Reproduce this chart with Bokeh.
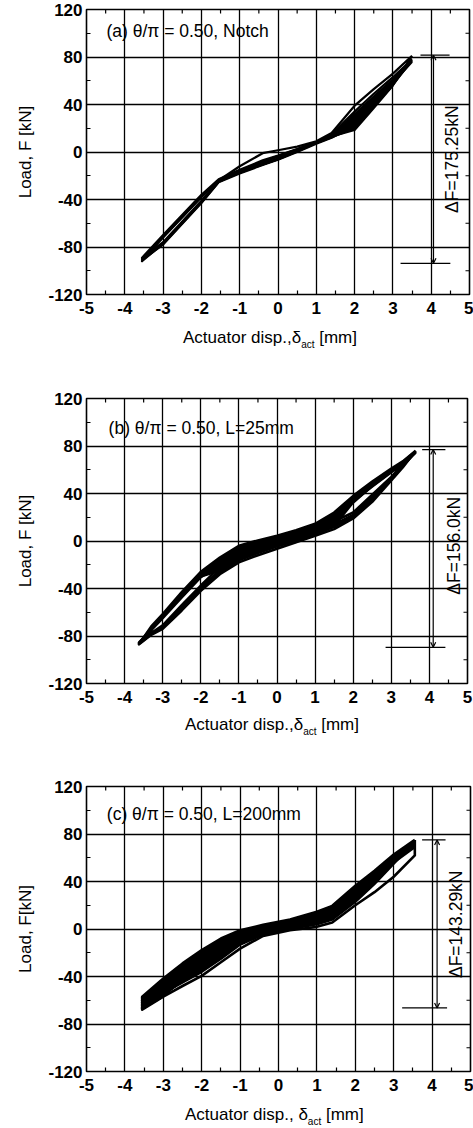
import math
from bokeh.plotting import figure
from bokeh.layouts import column
from bokeh.models import (Range1d, FixedTicker, Arrow, OpenHead, Label, Div)
from bokeh.embed import file_html
from bokeh.resources import INLINE

FONT = "Liberation Sans"

# ---------------- data ----------------
x_ticks = [-5, -4, -3, -2, -1, 0, 1, 2, 3, 4, 5]
x_tick_labels = ["-5", "-4", "-3", "-2", "-1", "0", "1", "2", "3", "4", "5"]
x_minor = [-4.5, -3.5, -2.5, -1.5, -0.5, 0.5, 1.5, 2.5, 3.5, 4.5]
y_ticks = [-120, -80, -40, 0, 40, 80, 120]
y_tick_labels = ["-120", "-80", "-40", "0", "40", "80", "120"]
y_minor = [-100, -60, -20, 20, 60, 100]

# Panel (a) Notch : loops given as upper (unloading) and lower (reloading) branches
a_x = [-3.55, -3.0, -2.0, -1.55, -1.0, -0.4, 0.0, 0.5, 1.0, 1.4, 2.0, 2.5, 3.0, 3.5]
a_upper = [
    [-92, -71, -37, -24, -12, -1, 1.5, 4.5, 9, 16, 39, 53, 66, 81],
    [-89, -70, -36, -23, -15, -7, -3, 2.5, 8.5, 15, 34, 49, 63, 78],
    [-91, -72, -38, -24, -16, -8.5, -4, 2, 8, 14, 30, 46, 61, 76],
    [-90, -71.5, -37.5, -24, -15.5, -8, -3.5, 2.2, 8.2, 14.5, 27, 43, 59, 77],
]
a_lower = [
    [-92, -77, -42, -25, -17, -10, -5.5, 1, 8, 13, 18.5, 37, 56, 81],
    [-89, -76, -41, -24.5, -17.5, -10.5, -6, 0.5, 7.5, 12.5, 20, 38, 57, 78],
    [-91, -78, -43, -25.5, -18, -11, -6.5, 0, 7, 12, 22, 40, 58, 76],
    [-90, -77.5, -42.5, -25, -17.5, -10.5, -6, 0.8, 7.5, 12.5, 24, 41.5, 58.5, 77],
]
a_fill_x = [1.4, 2.0, 2.5, 3.0, 3.5]
a_fill_top = [15, 33, 48, 62, 79]
a_fill_bot = [12.5, 19, 37, 55, 76]

# Panel (b) L=25mm
b_x = [-3.62, -3.3, -3.0, -2.5, -2.0, -1.5, -1.0, -0.5, 0.0, 0.5, 1.0, 1.5, 2.0, 2.5, 3.0, 3.3, 3.64]
b_upper = [
    [-87, -72, -61.5, -43, -26, -14, -4, 0.5, 4.5, 9, 14.5, 24, 38, 50, 61, 67, 76],
    [-86.5, -73, -63, -44.5, -27.5, -16, -6, -1.5, 3, 7.5, 13, 22.5, 36.5, 48.5, 60, 66.5, 75.5],
    [-86, -74, -64, -46, -29, -18, -8, -3, 1.5, 6, 11.5, 21, 35, 47, 59, 66, 75],
    [-85.5, -75, -65, -47.5, -30.5, -20, -10, -4.5, 0, 4.5, 10, 19.5, 33.5, 46, 58, 65, 74.5],
]
b_lower = [
    [-87, -79, -74, -58.5, -42, -28, -18, -12, -6.5, -1, 4.5, 10, 19, 33, 51, 62, 76],
    [-86.5, -78.5, -73, -57, -40.5, -26.5, -16, -10, -4.5, 0.5, 6, 12, 20.5, 35, 52, 63, 75.5],
    [-86, -78, -72, -55.5, -39, -25, -14, -8, -2.5, 2, 7.5, 14, 22, 37, 53, 63.5, 75],
    [-85.5, -77.5, -71, -54, -37.5, -22, -12, -6, -1, 3.5, 8.5, 16.5, 24, 39, 54, 64, 74.5],
]
b_fill_x = [-3.62, -3.3, -3.0, -2.5, -2.0, -1.5, -1.0, -0.5, 0.0, 0.5, 1.0, 1.5, 2.0, 2.5, 3.0, 3.3, 3.64]
b_fill_top = [-87, -72, -61.5, -43, -26, -14, -4, 0.5, 4.5, 8.5, 14, 23, 37.5, 49.5, 60.5, 66.5, 76]
b_fill_bot = [-87, -75, -65.5, -48, -31, -26, -17, -11, -5.5, -0.5, 5, 11, 31, 45, 57, 64.5, 75]

# Panel (c) L=200mm
c_x = [-3.55, -3.0, -2.5, -2.0, -1.5, -1.0, -0.4, 0.3, 1.0, 1.4, 2.0, 2.5, 3.0, 3.55]
c_upper = [
    [-57, -41.7, -29, -17.8, -8, -1.1, 3.5, 8, 14.5, 19.5, 36.4, 49, 62.7, 75],
    [-58, -42.5, -30, -19, -9.5, -2.5, 2.5, 7, 13.5, 19, 35, 48, 61, 74],
    [-60, -44, -31.5, -21, -11, -4, 1.5, 6, 12.5, 18, 34, 47, 60, 73],
    [-62, -46, -33.5, -23, -13, -5.5, 0.5, 5, 11.5, 17, 33, 46, 59, 72],
    [-64, -48, -35.5, -25.5, -15, -7, 0, 4.5, 11, 16.5, 32, 45, 58, 71],
    [-66, -50, -37.5, -28, -17, -8.5, -0.5, 4, 10.5, 16, 31, 44, 57, 70],
    [-67, -52, -40, -30.5, -19, -10, -1, 3.5, 10, 15.5, 30, 43, 56, 69],
]
c_lower = [
    [-68, -57, -48, -39.5, -28, -16.5, -5.8, -1, 1.8, 5.5, 20, 31, 44, 62],
    [-58, -54, -45, -36, -25, -13, -4.5, 0, 4, 8, 23, 38, 55, 74],
    [-60, -54.5, -44, -34.5, -23.5, -12, -4, 1, 5, 9.5, 24, 39, 56, 73],
    [-62, -55, -43.5, -33, -22, -11, -3.5, 2, 6, 11, 25, 40, 56.5, 72],
    [-64, -55.5, -43, -32, -21, -10.5, -3, 2.5, 7, 12, 26, 40.5, 57, 71],
    [-66, -56, -42.5, -31, -20, -10, -2.5, 3, 8, 13, 27, 41, 57, 70],
    [-67, -56.5, -42, -30, -19.5, -9.5, -2, 3.5, 8.5, 13.5, 28, 41.5, 57, 69],
]
c_fill_x = [-3.55, -3.3, -3.0, -2.5, -2.0, -1.5, -1.0, -0.4, 0.3, 1.0, 1.4, 2.0, 2.4]
c_fill_top = [-57, -50, -41.7, -29, -17.8, -8, -1.1, 3.5, 8, 14.5, 19.5, 36, 46]
c_fill_bot = [-67, -60, -55, -44, -36, -25, -13, -4.5, 0, 4, 8, 26, 43]

titles = ["(a) \u03b8/\u03c0 = 0.50, Notch",
          "(b) \u03b8/\u03c0 = 0.50, L=25mm",
          "(c) \u03b8/\u03c0 = 0.50, L=200mm"]
ylabels = ["Load, F [kN]", "Load, F [kN]", "Load, F[kN]"]
xlabel_main = ["Actuator disp.,\u03b4", "Actuator disp.,\u03b4", "Actuator disp., \u03b4"]
xlabel_sub = "act"
xlabel_unit = "[mm]"

# Delta-F range markers
dF_top = [81.5, 77.0, 75.0]
dF_bottom = [-93.75, -89.5, -66.5]
dF_text = ["\u0394F=175.25kN", "\u0394F=156.0kN", "\u0394F=143.29kN"]


def loop_paths(xg, ups, los):
    xs, ys = [], []
    for up, lo in zip(ups, los):
        xs.append(list(xg[::-1]) + list(xg) + [xg[-1]])
        ys.append(list(up[::-1]) + list(lo) + [up[-1]])
    return xs, ys


def style_axis(ax, standoff, ticks, labels):
    ax.axis_line_color = None
    ax.major_tick_in = 0
    ax.major_tick_out = 0
    ax.minor_tick_in = 4
    ax.minor_tick_out = 0
    ax.minor_tick_line_color = "black"
    ax.minor_tick_line_width = 1.2
    ax.major_label_text_font = FONT
    ax.major_label_text_font_size = "17px"
    ax.major_label_text_font_style = "bold"
    ax.major_label_text_color = "black"
    ax.major_label_standoff = standoff
    ax.major_label_overrides = {t: s for t, s in zip(ticks, labels)}


def make_panel(i, xg, ups, los, fx, ftop, fbot, lw, fw, fh, bl, br, bt, bb, geo):
    p = figure(frame_width=fw, frame_height=fh, x_range=Range1d(-5, 5),
               y_range=Range1d(-120, 120), output_backend="svg",
               toolbar_location=None, min_border_left=bl, min_border_right=br,
               min_border_top=bt, min_border_bottom=bb)
    p.background_fill_color = "white"
    p.border_fill_color = "white"
    p.outline_line_color = "black"
    p.outline_line_width = 1.6

    xt = FixedTicker(ticks=x_ticks, minor_ticks=x_minor)
    yt = FixedTicker(ticks=y_ticks, minor_ticks=y_minor)
    p.xaxis.ticker = xt
    p.yaxis.ticker = yt
    p.xgrid.ticker = xt
    p.ygrid.ticker = yt
    for g in (p.xgrid, p.ygrid):
        g.grid_line_color = "black"
        g.grid_line_width = 1.3
    style_axis(p.xaxis[0], 7, x_ticks, x_tick_labels)
    style_axis(p.yaxis[0], 4, y_ticks, y_tick_labels)
    p.yaxis.axis_label = ylabels[i]
    p.yaxis.axis_label_text_font = FONT
    p.yaxis.axis_label_text_font_size = "17px"
    p.yaxis.axis_label_text_font_style = "normal"
    p.yaxis.axis_label_text_color = "black"
    p.yaxis.axis_label_standoff = 10

    # mirror minor ticks on the top and right edges (clipped to the frame)
    p.scatter(x=x_minor, y=[120] * len(x_minor), marker="dash", size=8,
              angle=math.pi / 2, line_color="black", line_width=1.2)
    p.scatter(x=[5] * len(y_minor), y=y_minor, marker="dash", size=8,
              line_color="black", line_width=1.2)

    # dense band + loops
    p.varea(x=fx, y1=fbot, y2=ftop, fill_color="black")
    xs, ys = loop_paths(xg, ups, los)
    p.multi_line(xs=xs, ys=ys, line_color="black", line_width=lw,
                 line_join="round")

    (tx, ty, vx, tx0, tx1, bx0, bx1, dtx, dty) = geo

    p.add_layout(Label(x=tx, y=ty, text=titles[i], text_align="left",
                       text_baseline="middle", text_font=FONT,
                       text_font_size="17.5px", text_color="black"))

    p.segment(x0=[tx0, bx0], y0=[dF_top[i], dF_bottom[i]],
              x1=[tx1, bx1], y1=[dF_top[i], dF_bottom[i]],
              line_color="black", line_width=1.3)
    p.add_layout(Arrow(x_start=vx, y_start=dF_bottom[i], x_end=vx,
                       y_end=dF_top[i], line_color="black", line_width=1.2,
                       start=OpenHead(size=5, line_width=1.2),
                       end=OpenHead(size=5, line_width=1.2)))
    p.add_layout(Label(x=dtx, y=dty, text=dF_text[i], angle=math.pi / 2,
                       text_align="center", text_baseline="middle",
                       text_font=FONT, text_font_size="17.5px",
                       text_color="black"))
    return p


def xlabel_div(i, left, top, height):
    html = ('<div style="padding-left:%dpx;padding-top:%dpx;'
            'font-family:\'Liberation Sans\';font-size:17px;line-height:20px;'
            'color:black;white-space:nowrap;">%s'
            '<span style="font-size:10px;position:relative;top:5px;">%s</span>'
            ' %s</div>' % (left, top, xlabel_main[i], xlabel_sub, xlabel_unit))
    return Div(text=html, width=473, height=height, margin=(0, 0, 0, 0))


pa = make_panel(0, a_x, a_upper, a_lower, a_fill_x, a_fill_top, a_fill_bot,
                2.2, 383, 285, 83, 7, 9, 30,
                (-4.48, 101.5, 4.06, 3.72, 4.48, 3.2, 4.5, 4.55, -6.0))
pb = make_panel(1, b_x, b_upper, b_lower, b_fill_x, b_fill_top, b_fill_bot,
                2.6, 381, 285, 86, 6, 12, 30,
                (-4.42, 95.0, 4.1, 3.81, 4.42, 2.85, 4.42, 4.64, -4.0))
pc = make_panel(2, c_x, c_upper, c_lower, c_fill_x, c_fill_top, c_fill_bot,
                2.6, 384, 285, 86, 3, 12, 30,
                (-4.47, 96.7, 4.13, 3.74, 4.35, 3.22, 4.39, 4.61, 4.0))

da = xlabel_div(0, 183, 4, 62)
db = xlabel_div(1, 185, 2, 61)
dc = xlabel_div(2, 185, 4, 27)

layout = column(pa, da, pb, db, pc, dc, spacing=0)
open("out.html", "w").write(file_html(layout, INLINE))
